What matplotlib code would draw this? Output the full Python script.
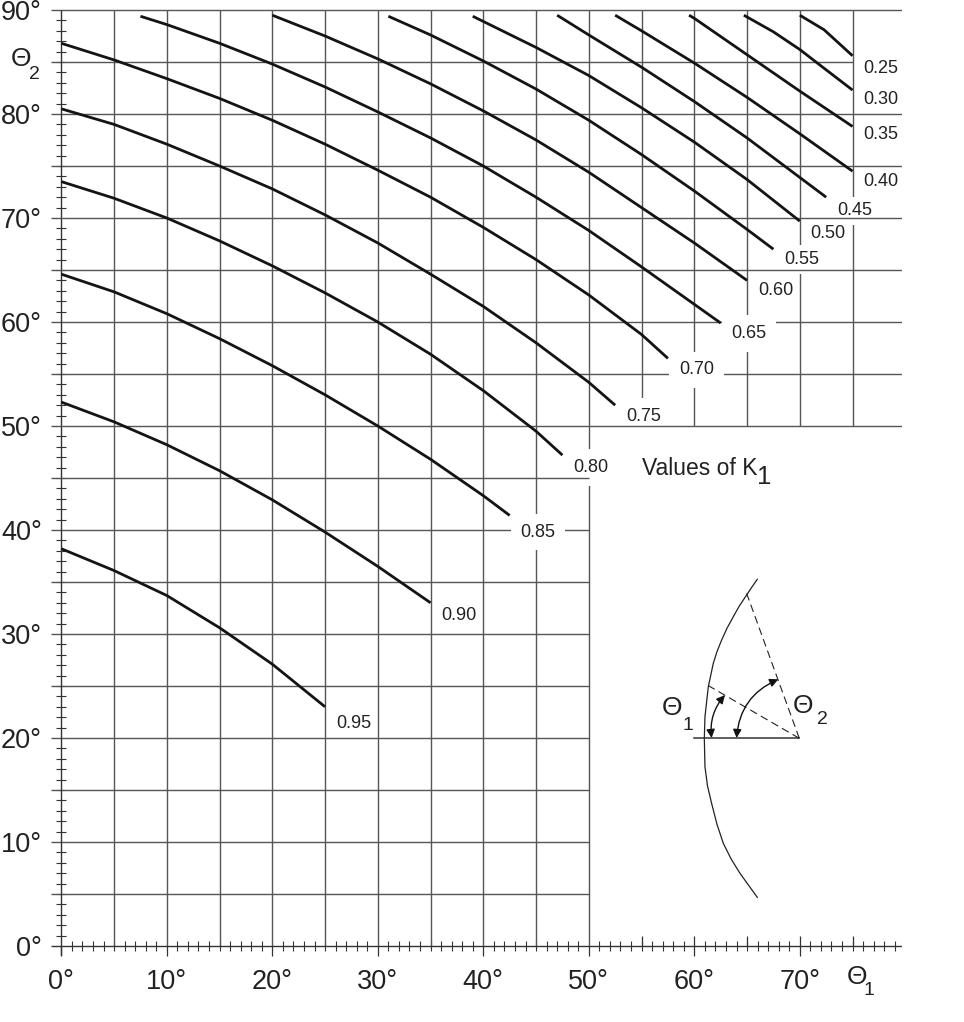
import matplotlib
matplotlib.use("Agg")
import matplotlib.pyplot as plt

plt.rcParams['font.family'] = ['Liberation Sans', 'DejaVu Sans']

GRID = '#555555'
CURVE = '#141414'
TEXT = '#222222'

# curves: theta1, theta2 (degrees)
k95_x = [0, 5, 10, 15, 20, 25]
k95_y = [38.2, 36.1, 33.7, 30.6, 27.1, 23.0]
k90_x = [0, 5, 10, 15, 20, 25, 30, 35]
k90_y = [52.3, 50.4, 48.2, 45.7, 42.9, 39.8, 36.5, 33.0]
k85_x = [0, 5, 10, 15, 20, 25, 30, 35, 40, 42.5]
k85_y = [64.6, 62.9, 60.8, 58.4, 55.8, 53.0, 50.0, 46.8, 43.3, 41.4]
k80_x = [0, 5, 10, 15, 20, 25, 30, 35, 40, 45, 47.5]
k80_y = [73.5, 71.9, 70.0, 67.8, 65.4, 62.8, 60.0, 56.9, 53.4, 49.5, 47.2]
k75_x = [0, 5, 10, 15, 20, 25, 30, 35, 40, 45, 50, 52.5]
k75_y = [80.5, 79.0, 77.1, 75.0, 72.8, 70.3, 67.6, 64.6, 61.5, 58.0, 54.2, 52.0]
k70_x = [0, 5, 10, 15, 20, 25, 30, 35, 40, 45, 50, 55, 57.5]
k70_y = [86.8, 85.2, 83.4, 81.5, 79.4, 77.1, 74.6, 72.0, 69.1, 66.0, 62.6, 58.8, 56.5]
k65_x = [7.5, 10, 15, 20, 25, 30, 35, 40, 45, 50, 55, 60, 62.5]
k65_y = [89.4, 88.6, 86.8, 84.8, 82.6, 80.2, 77.7, 75.0, 72.0, 68.8, 65.3, 61.7, 59.9]
k60_x = [20, 25, 30, 35, 40, 45, 50, 55, 60, 65]
k60_y = [89.5, 87.5, 85.3, 82.9, 80.3, 77.5, 74.4, 71.0, 67.6, 64.0]
k55_x = [31, 35, 40, 45, 50, 55, 60, 65, 67.5]
k55_y = [89.4, 87.6, 85.1, 82.4, 79.4, 76.1, 72.6, 68.9, 67.0]
k50_x = [39, 40, 45, 50, 55, 60, 65, 70]
k50_y = [89.4, 88.9, 86.4, 83.7, 80.6, 77.3, 73.7, 69.7]
k45_x = [47, 50, 55, 60, 65, 70, 72.5]
k45_y = [89.5, 87.6, 84.5, 81.2, 77.7, 73.9, 72.0]
k40_x = [52.5, 55, 60, 65, 70, 75]
k40_y = [89.5, 88.0, 84.9, 81.6, 78.1, 74.5]
k35_x = [59.5, 60, 65, 70, 75]
k35_y = [89.5, 89.2, 85.7, 82.2, 78.8]
k30_x = [64.7, 67.5, 70, 72.3, 75]
k30_y = [89.5, 87.9, 86.2, 84.4, 82.3]
k25_x = [70, 72.3, 75]
k25_y = [89.5, 88.1, 85.6]

curves = [(k95_x, k95_y), (k90_x, k90_y), (k85_x, k85_y), (k80_x, k80_y), (k75_x, k75_y),
          (k70_x, k70_y), (k65_x, k65_y), (k60_x, k60_y), (k55_x, k55_y), (k50_x, k50_y),
          (k45_x, k45_y), (k40_x, k40_y), (k35_x, k35_y), (k30_x, k30_y), (k25_x, k25_y)]

k_labels = ['0.95', '0.90', '0.85', '0.80', '0.75', '0.70', '0.65', '0.60', '0.55',
            '0.50', '0.45', '0.40', '0.35', '0.30', '0.25']
label_x = [27.7, 37.7, 45.2, 50.2, 55.2, 60.2, 65.2, 67.7, 70.2, 72.7, 75.2, 77.7, 77.7, 77.7, 77.7]
label_y = [21.6, 32.0, 40.0, 46.2, 51.1, 55.6, 59.1, 63.2, 66.2, 68.7, 70.9, 73.7, 78.2, 81.6, 84.6]
label_pad = [1, 1, 7, 7, 7, 7, 7, 1, 4, 1, 4, 2, 2, 2, 2]

# little sphere sketch at lower right
sketch_arc_x = [65.97, 65.45, 64.96, 64.30, 63.70, 63.10, 62.59, 62.15, 61.80, 61.33, 61.01, 60.95, 61.01, 61.25,
                61.64, 62.15, 62.75, 63.50, 64.33, 65.97]
sketch_arc_y = [35.26, 34.50, 33.75, 32.75, 31.67, 30.55, 29.42, 28.30, 27.18, 24.94, 22.05, 19.97, 17.24, 15.40,
                13.72, 11.70, 9.87, 8.35, 6.99, 4.68]
sketch_center = (69.95, 19.97)
sketch_left = (60.0, 19.97)
sketch_r1 = (61.39, 25.0)
sketch_r2 = (64.96, 33.91)
theta1_from = (61.64, 20.0)
theta1_to = (62.91, 24.13)
theta2_from = (64.01, 20.0)
theta2_to = (67.96, 25.64)

fig = plt.figure(figsize=(9.64, 10.22), dpi=100)
ax = fig.add_axes([50.75 / 964, (1022 - 956.4) / 1022, 80.7 * 10.55 / 964, 91.5 * 10.4 / 1022])
ax.set_xlim(-1, 79.7)
ax.set_ylim(-1, 90.5)
for s in ax.spines.values():
    s.set_visible(False)
# ticks sit on the zero lines, not on the edge of the axes
ax.spines['left'].set_position(('data', 0))
ax.spines['bottom'].set_position(('data', 0))

# grid is stepped: short columns on the right, short rows underneath
for x in range(5, 55, 5):
    ax.vlines(x, 0, 90, color=GRID, lw=1.0, zorder=2)
for x in range(55, 80, 5):
    ax.vlines(x, 50, 90, color=GRID, lw=1.0, zorder=2)
for y in range(5, 95, 5):
    if y <= 45:
        xend = 50
    elif y == 85:
        xend = 75
    else:
        xend = 79.7
    z = 3.5 if y in (45, 50, 65, 70) else 2
    ax.hlines(y, -1, xend, color=GRID, lw=1.0, zorder=z)

# axes lines
ax.hlines(0, -1, 79.7, color='#333333', lw=1.0, zorder=2)
ax.vlines(0, -1, 90, color='#333333', lw=1.0, zorder=2)

ax.set_xticks(range(0, 80, 10))
ax.set_xticklabels([f'{v}°' for v in range(0, 80, 10)], fontsize=19.5, color=TEXT)
ax.set_xticks(range(1, 80), minor=True)
ax.set_yticks(range(0, 100, 10))
ax.set_yticklabels([f'{v}°' for v in range(0, 100, 10)], fontsize=19.5, color=TEXT)
ax.set_yticks(range(1, 90), minor=True)
ax.tick_params(axis='x', which='major', direction='out', length=7.2, width=0.9, pad=9, color='#333333')
ax.tick_params(axis='y', which='major', length=0, pad=14)
ax.tick_params(axis='both', which='minor', direction='inout', length=7.2, width=0.8, color='#333333')

# upward marks on the bottom axis for the right hand columns
ax.vlines(range(55, 80, 5), 0, 1.0, color='#333333', lw=0.9, zorder=2)

for (cx, cy) in curves:
    ax.plot(cx, cy, color=CURVE, lw=2.0, zorder=4, solid_capstyle='butt')

for name, lx, ly, pad in zip(k_labels, label_x, label_y, label_pad):
    ax.text(lx, ly, name, fontsize=13, color=TEXT, ha='center', va='center_baseline', zorder=3,
            bbox=dict(facecolor='white', edgecolor='none', pad=pad))

ax.text(55.0, 46.2, 'Values of K', fontsize=16.5, color=TEXT, ha='left', va='center_baseline', zorder=5)
ax.text(66.6, 45.3, '1', fontsize=18.5, color=TEXT, ha='center', va='center_baseline', zorder=5)

# theta labels
ax.text(-3.8, 85.5, 'Θ', fontsize=19, color=TEXT, ha='center', va='center_baseline', clip_on=False)
ax.text(-2.5, 84.0, '2', fontsize=14, color=TEXT, ha='center', va='center_baseline', clip_on=False)
ax.text(75.4, -2.7, 'Θ', fontsize=19, color=TEXT, ha='center', va='center_baseline', clip_on=False)
ax.text(76.6, -4.1, '1', fontsize=14, color=TEXT, ha='center', va='center_baseline', clip_on=False)

# sketch
ax.plot(sketch_arc_x, sketch_arc_y, color='#222222', lw=0.9, zorder=4)
ax.plot([sketch_left[0], sketch_center[0]], [sketch_left[1], sketch_center[1]], color='#333333', lw=1.1, zorder=4)
ax.plot([sketch_center[0], sketch_r1[0]], [sketch_center[1], sketch_r1[1]], color='#222222', lw=0.8,
        ls=(0, (7, 4)), zorder=4)
ax.plot([sketch_center[0], sketch_r2[0]], [sketch_center[1], sketch_r2[1]], color='#222222', lw=0.8,
        ls=(0, (7, 4)), zorder=4)
for a, b, rad in [(theta1_from, theta1_to, -0.22), (theta2_from, theta2_to, -0.3)]:
    ax.annotate('', xy=b, xytext=a, zorder=5,
                arrowprops=dict(arrowstyle='<|-|>,head_length=0.5,head_width=0.25', color='#111111', lw=1.0,
                                connectionstyle=f'arc3,rad={rad}', shrinkA=0, shrinkB=0))
ax.text(57.9, 23.1, 'Θ', fontsize=19, color=TEXT, ha='center', va='center_baseline')
ax.text(59.4, 21.4, '1', fontsize=14, color=TEXT, ha='center', va='center_baseline')
ax.text(70.3, 23.3, 'Θ', fontsize=19, color=TEXT, ha='center', va='center_baseline')
ax.text(72.1, 22.0, '2', fontsize=14, color=TEXT, ha='center', va='center_baseline')

plt.savefig('out.png', dpi=100)
